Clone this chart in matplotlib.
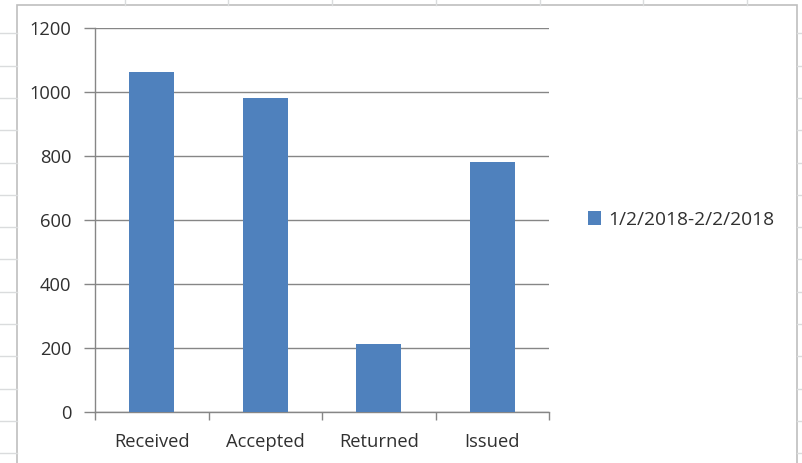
import matplotlib
matplotlib.use("Agg")
import matplotlib.pyplot as plt
from matplotlib.patches import Rectangle
from matplotlib.lines import Line2D
import numpy as np

categories = ["Received", "Accepted", "Returned", "Issued"]
values = [1062, 981, 212, 781]
series_label = "1/2/2018-2/2/2018"
yticks = [0, 200, 400, 600, 800, 1000, 1200]

W, H = 802, 463
fig = plt.figure(figsize=(W / 100, H / 100), dpi=100)
plt.rcParams['font.family'] = ['Open Sans', 'DejaVu Sans']
FS = 13.2
TC = "#303030"

def fx(x):
    return x / W

def fy(y):
    return 1 - y / H

# spreadsheet background grid
cell_col = "#dadcdd"
for y in range(1, 15):
    yy = y * 32.3 + 1
    fig.add_artist(Line2D([0, fx(17)], [fy(yy), fy(yy)], color=cell_col, lw=1))
    fig.add_artist(Line2D([fx(797), 1], [fy(yy), fy(yy)], color=cell_col, lw=1))
for x in [125, 228, 332, 436, 540, 643, 747]:
    fig.add_artist(Line2D([fx(x), fx(x)], [fy(0), fy(5)], color=cell_col, lw=1))

# chart area
fig.add_artist(Rectangle((fx(17), fy(470)), fx(797 - 17), (470 - 5) / H,
                         facecolor="white", edgecolor="#bfbfbf", lw=1.2, zorder=0.5))

ax = fig.add_axes([fx(95), (H - 412) / H, fx(549 - 95), 384 / H])
ax.set_zorder(2)
ax.patch.set_alpha(0)
x = np.arange(len(categories))
bars = ax.bar(x, values, width=0.4, color="#4f81bd", label=series_label, zorder=3)
ax.set_xlim(-0.5, len(categories) - 0.5)
ax.set_ylim(0, 1200)
ax.set_yticks(yticks)
ax.set_yticklabels([str(v) for v in yticks])
ax.yaxis.grid(True, color="#868686", lw=1)
ax.set_axisbelow(True)
for s in ["top", "right"]:
    ax.spines[s].set_visible(False)
for s in ["left", "bottom"]:
    ax.spines[s].set_color("#868686")
    ax.spines[s].set_linewidth(1)
ax.set_xticks(np.arange(-0.5, len(categories), 1.0))
ax.set_xticklabels([""] * (len(categories) + 1))
ax.set_xticks(x, minor=True)
ax.set_xticklabels(categories, minor=True)
ax.tick_params(axis="x", which="major", length=6, color="#868686", width=1, direction="out")
ax.tick_params(axis="x", which="minor", length=0, pad=15, labelsize=FS, labelcolor=TC)
ax.tick_params(axis="y", length=8, color="#868686", width=1, pad=9, labelsize=FS, labelcolor=TC)

leg = ax.legend(loc="center left", bbox_to_anchor=(fx(580 - 95) / fx(549 - 95), 0.5),
                frameon=False, fontsize=13.8, handlelength=0.72, handleheight=0.72,
                handletextpad=0.35, borderaxespad=0)
for t in leg.get_texts():
    t.set_color(TC)

fig.savefig("out.png", dpi=100)
